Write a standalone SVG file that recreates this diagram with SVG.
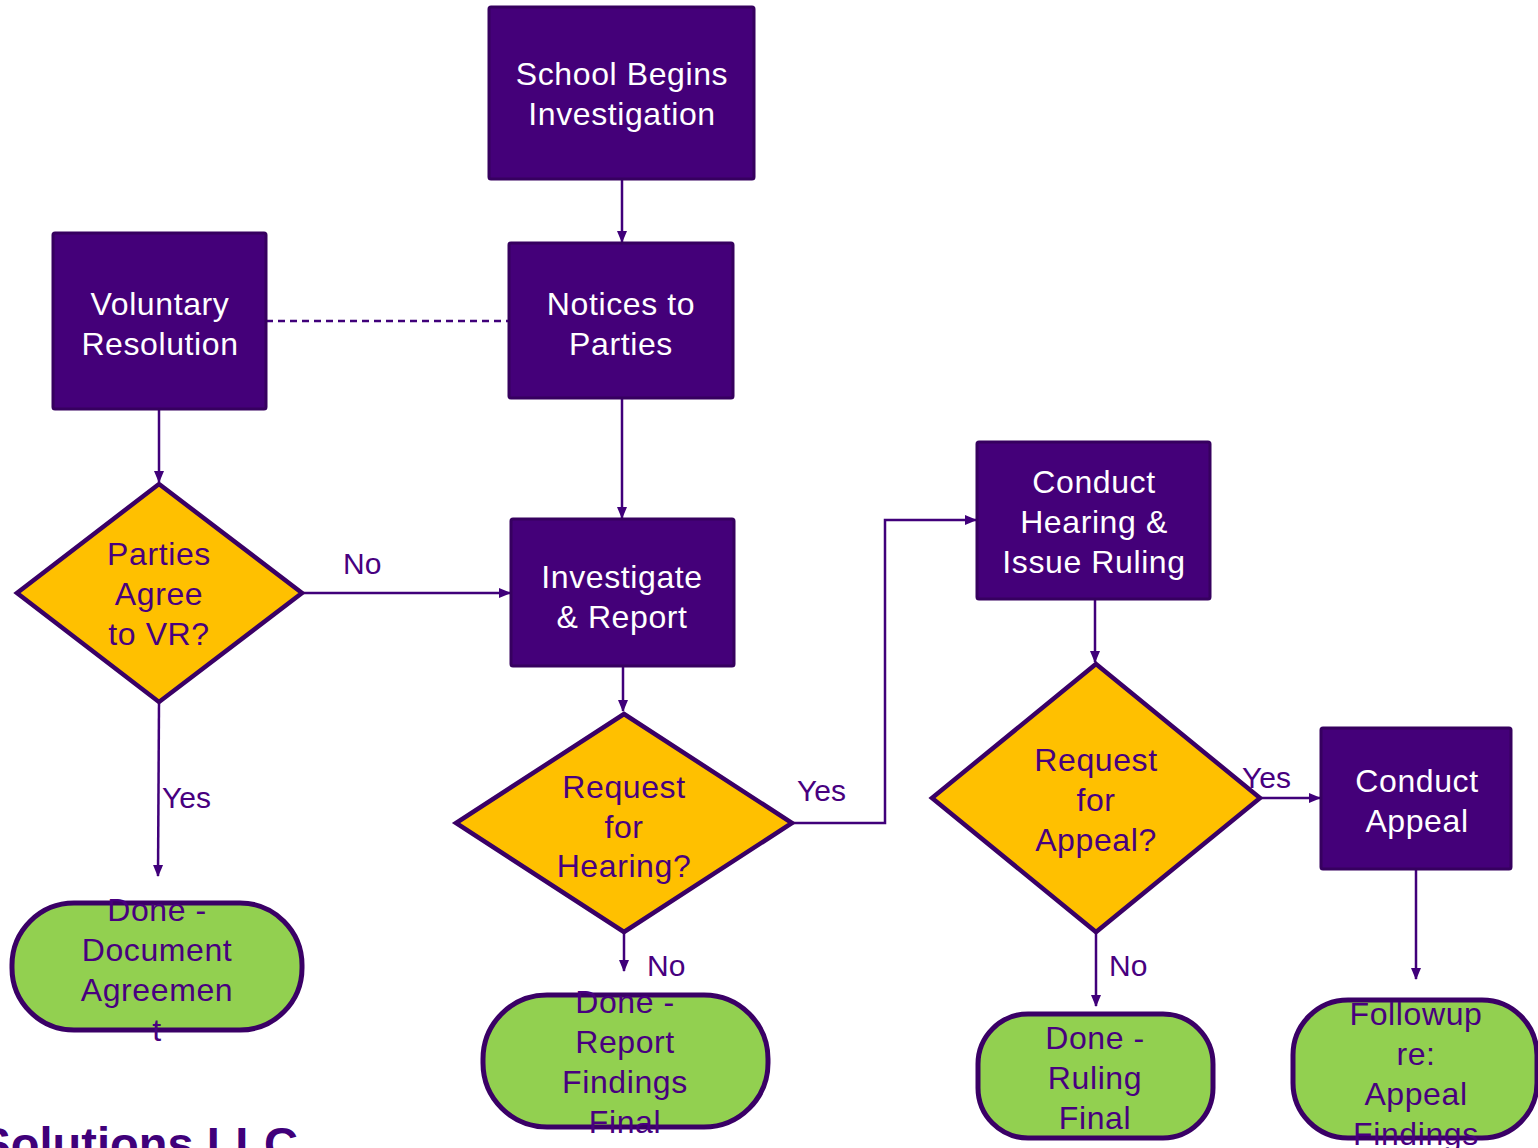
<svg xmlns="http://www.w3.org/2000/svg" width="1538" height="1148" viewBox="0 0 1538 1148">
<defs>
<marker id="arr" markerWidth="12" markerHeight="12" refX="11" refY="6" orient="auto" markerUnits="userSpaceOnUse">
<path d="M0,1 L12,6 L0,11 Z" fill="#40007A"/>
</marker>
<style>
.box{fill:#440079;stroke:#36005F;stroke-width:3}
.dia{fill:#FFC000;stroke:#3A0066;stroke-width:4.5}
.term{fill:#92D050;stroke:#3A0066;stroke-width:5}
.wt{fill:#FFFFFF;font-family:"Liberation Sans",Arial,sans-serif;font-size:32px;letter-spacing:0.6px;text-anchor:middle;dominant-baseline:central}
.pt{fill:#48007F;font-family:"Liberation Sans",Arial,sans-serif;font-size:32px;letter-spacing:0.6px;text-anchor:middle;dominant-baseline:central}
.lbl{fill:#48007F;font-family:"Liberation Sans",Arial,sans-serif;font-size:30px;dominant-baseline:central}
.ln{fill:none;stroke:#40007A;stroke-width:2.5}
</style>
</defs>
<rect width="1538" height="1148" fill="#FFFFFF"/>
<g id="connectors">
<line class="ln" x1="622" y1="179" x2="622" y2="242" marker-end="url(#arr)"/>
<line class="ln" x1="266" y1="321" x2="509" y2="321" stroke-dasharray="7,5"/>
<line class="ln" x1="622" y1="398" x2="622" y2="518" marker-end="url(#arr)"/>
<line class="ln" x1="159" y1="409" x2="159" y2="482" marker-end="url(#arr)"/>
<line class="ln" x1="302" y1="593" x2="510" y2="593" marker-end="url(#arr)"/>
<line class="ln" x1="159" y1="702" x2="158" y2="876" marker-end="url(#arr)"/>
<line class="ln" x1="623" y1="666" x2="623" y2="711" marker-end="url(#arr)"/>
<polyline class="ln" points="792,823 885,823 885,520 976,520" marker-end="url(#arr)"/>
<line class="ln" x1="624" y1="932" x2="624" y2="971" marker-end="url(#arr)"/>
<line class="ln" x1="1095" y1="599" x2="1095" y2="662" marker-end="url(#arr)"/>
<line class="ln" x1="1260" y1="798" x2="1320" y2="798" marker-end="url(#arr)"/>
<line class="ln" x1="1096" y1="932" x2="1096" y2="1006" marker-end="url(#arr)"/>
<line class="ln" x1="1416" y1="869" x2="1416" y2="979" marker-end="url(#arr)"/>
<text class="lbl" x="343" y="563">No</text>
<text class="lbl" x="162" y="797">Yes</text>
<text class="lbl" x="797" y="790">Yes</text>
<text class="lbl" x="647" y="965">No</text>
<text class="lbl" x="1242" y="777">Yes</text>
<text class="lbl" x="1109" y="965">No</text>
</g>
<g id="school-begins">
<rect class="box" x="489" y="7" width="265" height="172" rx="2"/>
<text class="wt" x="622" y="74">School Begins</text>
<text class="wt" x="622" y="114">Investigation</text>
</g>
<g id="notices">
<rect class="box" x="509" y="243" width="224" height="155" rx="2"/>
<text class="wt" x="621" y="304">Notices to</text>
<text class="wt" x="621" y="344">Parties</text>
</g>
<g id="voluntary">
<rect class="box" x="53" y="233" width="213" height="176" rx="2"/>
<text class="wt" x="160" y="304">Voluntary</text>
<text class="wt" x="160" y="344">Resolution</text>
</g>
<g id="investigate">
<rect class="box" x="511" y="519" width="223" height="147" rx="2"/>
<text class="wt" x="622" y="577">Investigate</text>
<text class="wt" x="622" y="617">&amp; Report</text>
</g>
<g id="parties-agree">
<polygon class="dia" points="159,484 302,593 159,702 17,593"/>
<text class="pt" x="159" y="554">Parties</text>
<text class="pt" x="159" y="594">Agree</text>
<text class="pt" x="159" y="634">to VR?</text>
</g>
<g id="request-hearing">
<polygon class="dia" points="624,714 792,823 624,932 456,823"/>
<text class="pt" x="624" y="787">Request</text>
<text class="pt" x="624" y="827">for</text>
<text class="pt" x="624" y="866">Hearing?</text>
</g>
<g id="conduct-hearing">
<rect class="box" x="977" y="442" width="233" height="157" rx="2"/>
<text class="wt" x="1094" y="482">Conduct</text>
<text class="wt" x="1094" y="522">Hearing &amp;</text>
<text class="wt" x="1094" y="562">Issue Ruling</text>
</g>
<g id="request-appeal">
<polygon class="dia" points="1096,664 1260,798 1096,932 932,798"/>
<text class="pt" x="1096" y="760">Request</text>
<text class="pt" x="1096" y="800">for</text>
<text class="pt" x="1096" y="840">Appeal?</text>
</g>
<g id="conduct-appeal">
<rect class="box" x="1321" y="728" width="190" height="141" rx="2"/>
<text class="wt" x="1417" y="781">Conduct</text>
<text class="wt" x="1417" y="821">Appeal</text>
</g>
<g id="done-document">
<rect class="term" x="12" y="903" width="290" height="127" rx="62"/>
<text class="pt" x="157" y="910">Done -</text>
<text class="pt" x="157" y="950">Document</text>
<text class="pt" x="157" y="990">Agreemen</text>
<text class="pt" x="157" y="1030">t</text>
</g>
<g id="done-report">
<rect class="term" x="483" y="995" width="285" height="132" rx="64"/>
<text class="pt" x="625" y="1002">Done -</text>
<text class="pt" x="625" y="1042">Report</text>
<text class="pt" x="625" y="1082">Findings</text>
<text class="pt" x="625" y="1122">Final</text>
</g>
<g id="done-ruling">
<rect class="term" x="978" y="1014" width="235" height="124" rx="50"/>
<text class="pt" x="1095" y="1038">Done -</text>
<text class="pt" x="1095" y="1078">Ruling</text>
<text class="pt" x="1095" y="1118">Final</text>
</g>
<g id="followup">
<rect class="term" x="1293" y="1000" width="244" height="138" rx="55"/>
<text class="pt" x="1416" y="1014">Followup</text>
<text class="pt" x="1416" y="1054">re:</text>
<text class="pt" x="1416" y="1094">Appeal</text>
<text class="pt" x="1416" y="1134">Findings</text>
</g>
<text x="298" y="1160" text-anchor="end" fill="#40007A" font-family="'Liberation Sans',Arial,sans-serif" font-size="47" font-weight="bold">Solutions LLC</text>
</svg>
